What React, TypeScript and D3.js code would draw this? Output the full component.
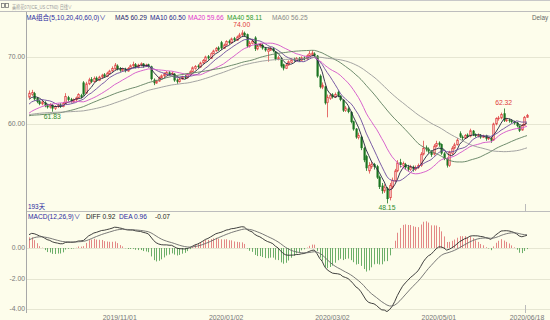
import React from "react";
import * as d3 from "d3";

const W = 550;
const H = 320;

// closes before the visible window (used only to seed the moving averages / MACD)
const priorCloses = [
  60.5, 60.8, 60.3, 60.1, 60.6, 60.9, 61.2, 61.0, 61.4, 61.7,
  61.5, 61.9, 62.2, 62.0, 62.4, 62.7, 62.5, 62.2, 62.6, 62.9,
  62.7, 62.3, 62.1, 62.5, 62.2, 61.8, 61.5, 61.7, 61.3, 61.0,
  60.7, 60.9, 60.5, 60.2, 60.4, 60.0, 59.7, 59.9, 59.5, 59.3,
  59.6, 59.2, 59.5, 59.8, 59.6, 60.1, 60.5, 60.3, 60.8, 61.2,
  61.6, 61.4, 62.0, 62.5, 62.4, 62.9, 63.3, 63.2, 63.5, 63.8,
];

const opens = [
  64.0, 64.4, 64.6, 63.9, 63.4, 63.0, 63.2, 62.8, 62.5, 62.8,
  62.3, 62.6, 62.9, 62.6, 63.1, 64.0, 63.7, 63.3, 63.6, 63.9,
  64.3, 66.2, 64.6, 66.0, 66.7, 66.3, 66.9, 66.5, 67.0, 67.4,
  67.1, 67.5, 67.9, 68.2, 68.7, 68.3, 68.0, 68.2, 67.9, 68.3,
  68.7, 68.9, 68.5, 68.8, 69.0, 68.6, 68.9, 68.6, 66.6, 66.1,
  66.4, 66.9, 67.2, 67.4, 67.7, 67.4, 67.5, 66.6, 66.3, 66.7,
  67.1, 66.9, 67.4, 67.8, 68.3, 68.7, 68.5, 69.1, 69.4, 70.1,
  69.8, 70.5, 70.9, 71.4, 72.2, 71.3, 71.8, 72.4, 72.1, 72.8,
  72.5, 73.0, 73.3, 73.6, 73.4, 71.6, 72.0, 72.9, 71.2, 71.6,
  71.8, 71.3, 70.8, 71.0, 71.3, 70.8, 69.7, 69.8, 68.9, 68.3,
  68.8, 69.2, 69.7, 69.5, 69.8, 69.5, 69.9, 69.7, 70.2, 70.3,
  70.5, 70.2, 67.2, 65.5, 65.6, 63.2, 63.8, 64.4, 64.0, 64.8,
  64.2, 63.6, 62.0, 62.3, 61.8, 60.4, 59.3, 58.0, 58.1, 56.4,
  55.2, 53.0, 53.6, 54.0, 53.7, 52.1, 50.8, 50.0, 50.4, 49.0,
  50.6, 51.5, 53.0, 54.3, 53.8, 54.0, 53.6, 53.2, 53.6, 53.2,
  53.5, 53.8, 55.5, 56.5, 56.3, 55.9, 55.5, 56.7, 57.2, 57.0,
  55.6, 54.9, 53.8, 55.6, 56.4, 56.9, 58.6, 58.1, 57.9, 58.4,
  58.2, 59.0, 58.4, 58.2, 58.3, 58.0, 58.3, 57.8, 57.9, 57.6,
  60.0, 60.8, 60.9, 61.6, 60.5, 60.6, 60.5, 60.3, 60.2, 59.7,
  59.1, 59.8, 61.0,
];

const closes = [
  64.6, 64.7, 63.7, 63.3, 63.0, 63.3, 62.7, 62.5, 62.9, 62.3,
  62.6, 62.8, 62.6, 63.1, 64.1, 63.6, 63.4, 63.6, 63.9, 64.4,
  64.0, 64.4, 66.0, 66.6, 66.3, 66.8, 66.5, 67.0, 67.3, 67.1,
  67.6, 67.9, 68.3, 68.8, 68.2, 68.0, 68.2, 67.9, 68.3, 68.7,
  68.9, 68.5, 68.8, 69.0, 68.6, 68.8, 68.6, 66.7, 66.1, 66.4,
  66.9, 67.2, 67.5, 67.7, 67.4, 67.6, 66.5, 66.3, 66.7, 67.0,
  66.9, 67.4, 67.8, 68.4, 68.6, 68.5, 69.1, 69.5, 70.0, 69.8,
  70.5, 70.9, 71.3, 71.1, 71.3, 71.8, 72.3, 72.1, 72.7, 72.5,
  73.0, 73.3, 73.6, 73.2, 71.6, 72.1, 72.4, 71.2, 71.6, 71.9,
  71.3, 71.0, 71.1, 71.3, 70.9, 69.7, 69.9, 68.6, 68.3, 68.8,
  69.3, 69.6, 69.5, 69.8, 69.5, 69.9, 69.7, 70.2, 70.5, 70.6,
  70.2, 67.1, 65.5, 65.8, 63.1, 64.0, 64.3, 64.0, 64.4, 64.2,
  63.6, 62.0, 62.4, 61.8, 60.3, 59.2, 58.0, 58.3, 56.4, 54.6,
  53.4, 53.8, 54.0, 53.6, 52.0, 50.6, 50.0, 50.5, 48.8, 50.8,
  51.6, 53.0, 54.2, 53.9, 54.1, 53.5, 53.2, 53.6, 53.2, 53.5,
  53.8, 55.5, 56.4, 56.2, 55.9, 55.4, 56.7, 57.1, 56.9, 55.6,
  54.8, 53.8, 55.8, 56.4, 56.9, 57.6, 58.1, 57.9, 58.3, 58.1,
  59.0, 58.4, 58.2, 58.3, 58.0, 58.2, 57.8, 57.9, 57.5, 60.0,
  60.8, 60.9, 61.4, 60.5, 60.6, 60.5, 60.3, 60.1, 59.7, 59.0,
  59.8, 61.0, 61.3,
];

const highs = [
  65.0, 65.1, 64.8, 64.0, 63.6, 63.5, 63.4, 63.0, 63.1, 63.0,
  62.8, 63.0, 63.1, 63.3, 64.6, 64.2, 63.9, 63.8, 64.1, 64.6,
  64.5, 66.4, 66.3, 66.9, 67.0, 67.1, 67.1, 67.2, 67.5, 67.6,
  67.8, 68.1, 68.6, 69.1, 68.9, 68.5, 68.4, 68.4, 68.5, 68.9,
  69.3, 69.1, 69.0, 69.2, 69.1, 69.0, 69.0, 68.7, 66.8, 66.6,
  67.1, 67.4, 67.7, 67.9, 67.9, 67.8, 67.6, 66.8, 66.9, 67.2,
  67.3, 67.6, 68.0, 68.6, 68.8, 68.9, 69.3, 69.7, 70.2, 70.3,
  70.7, 71.1, 71.5, 71.6, 72.4, 72.0, 72.5, 72.6, 72.9, 73.0,
  73.2, 73.6, 74.0, 73.8, 73.5, 72.4, 72.7, 73.1, 71.9, 72.1,
  72.0, 71.5, 71.4, 71.5, 71.4, 70.9, 70.2, 69.9, 69.0, 69.0,
  69.5, 69.8, 69.9, 70.0, 70.0, 70.1, 70.1, 70.4, 70.9, 71.0,
  70.7, 70.3, 67.4, 66.2, 65.7, 64.4, 64.6, 64.6, 64.7, 65.0,
  64.3, 63.7, 62.7, 62.5, 61.9, 60.5, 59.4, 58.7, 58.2, 56.6,
  55.4, 54.3, 54.5, 54.2, 53.9, 52.3, 51.2, 51.0, 50.6, 51.2,
  52.0, 53.3, 54.6, 54.8, 54.4, 54.2, 53.9, 53.9, 53.8, 53.8,
  54.1, 55.8, 57.5, 56.8, 56.5, 56.1, 57.0, 57.5, 57.4, 57.1,
  55.8, 55.0, 56.0, 56.7, 57.2, 57.9, 58.9, 58.3, 58.5, 58.6,
  59.3, 59.1, 58.6, 58.6, 58.5, 58.4, 58.4, 58.1, 58.0, 60.2,
  61.0, 61.2, 61.7, 62.32, 60.9, 60.8, 60.7, 60.5, 60.3, 59.8,
  60.0, 61.2, 61.5,
];

const lows = [
  63.8, 64.2, 63.5, 63.1, 62.8, 62.8, 62.5, 62.3, 62.3, 61.83,
  62.1, 62.4, 62.4, 62.5, 63.0, 63.4, 63.2, 63.2, 63.4, 63.8,
  63.8, 64.2, 64.5, 65.8, 66.1, 66.2, 66.3, 66.4, 66.8, 66.9,
  67.0, 67.4, 67.8, 68.1, 68.0, 67.8, 67.8, 67.7, 67.8, 68.2,
  68.5, 68.3, 68.3, 68.6, 68.4, 68.5, 68.4, 66.5, 65.8, 66.0,
  66.3, 66.8, 67.0, 67.3, 67.2, 67.3, 66.3, 66.0, 66.2, 66.6,
  66.7, 66.8, 67.3, 67.7, 68.1, 68.3, 68.4, 69.0, 69.3, 69.6,
  69.7, 70.4, 70.8, 70.9, 71.1, 71.2, 71.7, 71.9, 72.0, 72.3,
  72.4, 72.9, 73.1, 73.0, 71.4, 71.4, 71.9, 70.9, 71.0, 71.4,
  71.1, 70.8, 69.3, 70.9, 70.7, 69.5, 69.5, 68.4, 68.0, 68.2,
  68.7, 69.1, 69.3, 69.4, 69.3, 69.4, 69.5, 69.6, 70.1, 70.2,
  70.0, 66.9, 65.3, 65.2, 62.9, 61.0, 63.6, 63.8, 63.9, 64.0,
  63.4, 61.8, 61.8, 61.6, 60.1, 59.0, 57.8, 57.7, 56.1, 54.3,
  53.0, 52.6, 53.3, 53.2, 51.8, 50.3, 49.6, 49.7, 48.15, 48.6,
  50.3, 51.3, 52.8, 53.5, 53.5, 53.2, 52.9, 53.0, 52.9, 53.0,
  53.3, 53.6, 55.3, 55.9, 55.6, 55.1, 55.3, 56.5, 56.6, 55.4,
  54.6, 53.5, 53.6, 55.4, 56.2, 56.8, 57.9, 57.6, 57.8, 57.9,
  58.0, 58.2, 58.0, 58.0, 57.8, 57.9, 57.5, 57.6, 57.2, 57.5,
  59.8, 60.5, 60.7, 60.3, 60.3, 60.2, 60.1, 59.9, 59.5, 58.8,
  59.0, 59.7, 60.9,
];

const maPeriods = [5, 10, 20, 40, 60];
const maNames = ["MA5", "MA10", "MA20", "MA40", "MA60"];
const maLegendValues = ["60.29", "60.50", "59.66", "58.11", "56.25"];
const macdLegend = ["DIFF 0.92", "DEA 0.96", "-0.07"];

const dateLabels = ["2019/11/01", "2020/01/02", "2020/03/02", "2020/05/01", "2020/06/18"];
const dateBars = [35, 76, 117, 158, 192];

const priceTicks = [70, 60];
const macdTicks = [0, -2, -4];

const markBars = [9, 82, 138, 183];
const markKinds = ["low", "high", "low", "high"];

// ---- styling ----
const BG = "#fdfdeb";
const FONT = "'Liberation Sans', Arial, 'Noto Sans CJK SC', sans-serif";
const maLineColors = ["#22223f", "#6b4a9c", "#d452c8", "#5f7f5f", "#9a9a9a"];
const maTextColors = ["#1d1d6e", "#24248e", "#e035cf", "#2f9a2f", "#8a8a8a"];
const UP = "#e04a4a";
const UP_FILL = "#f6c0c0";
const DOWN = "#1a7420";

const ema = (arr: number[], p: number) => {
  const k = 2 / (p + 1);
  let e = arr[0];
  return arr.map((v, j) => (e = j === 0 ? v : e + k * (v - e)));
};

export default function App() {
  const n = closes.length;
  const off = priorCloses.length;
  const all = [...priorCloses, ...closes];

  const x = d3.scaleLinear().domain([0, n - 1]).range([29, 527]);
  const y = d3.scaleLinear().domain([60, 70]).range([124, 57]);
  const ym = d3.scaleLinear().domain([0, -4]).range([248, 309]);

  const maSeries = maPeriods.map((p) =>
    closes.map((_, i) => d3.mean(all.slice(off + i - p + 1, off + i + 1)) as number)
  );

  const e12 = ema(all, 12);
  const e26 = ema(all, 26);
  const difAll = all.map((_, j) => e12[j] - e26[j]);
  const deaAll = ema(difAll, 9);
  const dif = difAll.slice(off);
  const dea = deaAll.slice(off);
  const hist = dif.map((d, i) => 2 * (d - dea[i]));

  const priceLine = d3.line<number>().x((_, i) => x(i)).y((d) => y(d));
  const macdLine = d3.line<number>().x((_, i) => x(i)).y((d) => ym(d));

  const legendX = [115, 150, 188, 227, 272];

  return (
    <svg
      width={W}
      height={H}
      style={{ position: "fixed", left: 0, top: 0, background: BG }}
      fontFamily={FONT}
    >
      <defs>
        <clipPath id="mainClip">
          <rect x={27} y={12} width={W - 27} height={199} />
        </clipPath>
        <clipPath id="macdClip">
          <rect x={27} y={212} width={W - 27} height={100} />
        </clipPath>
      </defs>
      <rect x={0} y={0} width={W} height={H} fill={BG} />

      {/* header */}
      <line x1={0} x2={W} y1={0.5} y2={0.5} stroke="#c8c8c8" />
      <line x1={0} x2={W} y1={11.5} y2={11.5} stroke="#bdbdbd" />
      <rect x={1.5} y={3.5} width={3} height={4} fill="none" stroke="#777" strokeWidth={0.8} />
      <rect x={5.5} y={3.5} width={3} height={4} fill="none" stroke="#777" strokeWidth={0.8} />
      <text x={12} y={8.6} fontSize={5.4} fill="#9a9a9a" textLength={60} lengthAdjust="spacingAndGlyphs">
        美棉花07(ICE_US CTN0)  日线∨
      </text>

      {/* legend */}
      <text x={26} y={19.5} fontSize={6.6} fill="#2a2aa0">MA组合(5,10,20,40,60,0)∨</text>
      {maNames.map((nm, k) => (
        <text key={nm} x={legendX[k]} y={19.5} fontSize={6.6} fill={maTextColors[k]}>
          {nm} {maLegendValues[k]}
        </text>
      ))}
      <text x={532} y={19.5} fontSize={6.3} fill="#666">Delay</text>

      {/* axes and grid */}
      <line x1={26.5} x2={26.5} y1={12} y2={313} stroke="#a8a8a8" />
      {priceTicks.map((t) => (
        <g key={t}>
          <line x1={27} x2={W} y1={Math.round(y(t)) + 0.5} y2={Math.round(y(t)) + 0.5} stroke="#e6e6d2" />
          <text x={25} y={y(t) + 2.4} fontSize={6.8} textAnchor="end" fill="#777">
            {t.toFixed(2)}
          </text>
        </g>
      ))}
      <line x1={27} x2={W} y1={211.5} y2={211.5} stroke="#bdbdbd" />
      {macdTicks.map((t) => (
        <g key={t}>
          <line x1={27} x2={W} y1={Math.round(ym(t)) + 0.5} y2={Math.round(ym(t)) + 0.5} stroke="#e6e6d2" />
          <text x={25} y={ym(t) + 2.4} fontSize={6.8} textAnchor="end" fill="#777">
            {t.toFixed(2)}
          </text>
        </g>
      ))}

      {/* candles */}
      <g clipPath="url(#mainClip)">
        {closes.map((c, i) => {
          const o = opens[i];
          const up = c >= o;
          const cx = Math.round(x(i));
          const top = y(Math.max(o, c));
          const bot = y(Math.min(o, c));
          const h = Math.max(bot - top, 0.8);
          return (
            <g key={i}>
              <line
                x1={cx + 0.5}
                x2={cx + 0.5}
                y1={y(highs[i])}
                y2={y(lows[i])}
                stroke={up ? UP : DOWN}
                strokeWidth={0.8}
              />
              {up ? (
                <rect x={cx - 0.3} y={top} width={1.6} height={h} fill={UP_FILL} stroke={UP} strokeWidth={0.7} />
              ) : (
                <rect x={cx - 0.5} y={top} width={2.2} height={h} fill={DOWN} />
              )}
            </g>
          );
        })}
        {maSeries.map((s, k) => (
          <path key={k} d={priceLine(s) || ""} fill="none" stroke={maLineColors[k]} strokeWidth={0.9} />
        ))}
      </g>

      {/* high / low marks */}
      {markBars.map((b, k) => {
        const isHigh = markKinds[k] === "high";
        const v = isHigh ? highs[b] : lows[b];
        return (
          <text
            key={b}
            x={x(b)}
            y={isHigh ? y(v) - 3.5 : y(v) + 6.8}
            fontSize={6.8}
            textAnchor="middle"
            fill={isHigh ? "#e03a3a" : "#2e8b2e"}
          >
            {v.toFixed(2)}
          </text>
        );
      })}

      <text x={28} y={208.5} fontSize={6.4} fill="#2a2aa0">193天</text>

      {/* MACD */}
      <text x={28} y={218.6} fontSize={6.6} fill="#2a2aa0">MACD(12,26,9)∨</text>
      <text x={86} y={218.6} fontSize={6.6} fill="#222">{macdLegend[0]}</text>
      <text x={119} y={218.6} fontSize={6.6} fill="#2a2aa0">{macdLegend[1]}</text>
      <text x={155} y={218.6} fontSize={6.6} fill="#222">{macdLegend[2]}</text>

      <g clipPath="url(#macdClip)">
        {hist.map((h, i) => (
          <line
            key={i}
            x1={Math.round(x(i)) + 0.5}
            x2={Math.round(x(i)) + 0.5}
            y1={ym(0)}
            y2={ym(h)}
            stroke={h >= 0 ? "#e07a7a" : "#5aa55a"}
            strokeWidth={0.9}
          />
        ))}
        <path d={macdLine(dif) || ""} fill="none" stroke="#2b2b2b" strokeWidth={0.9} />
        <path d={macdLine(dea) || ""} fill="none" stroke="#6a6a6a" strokeWidth={0.9} />
      </g>

      {/* last bar marker ticks */}
      <line x1={Math.round(x(n - 1)) - 1.5} x2={Math.round(x(n - 1)) - 1.5} y1={204} y2={212} stroke="#bbb" />
      <line x1={Math.round(x(n - 1)) - 1.5} x2={Math.round(x(n - 1)) - 1.5} y1={305} y2={313} stroke="#bbb" />

      {/* date labels */}
      {dateLabels.map((d, k) => (
        <text key={d} x={x(dateBars[k])} y={319.6} fontSize={6.9} textAnchor="middle" fill="#777">
          {d}
        </text>
      ))}
    </svg>
  );
}
